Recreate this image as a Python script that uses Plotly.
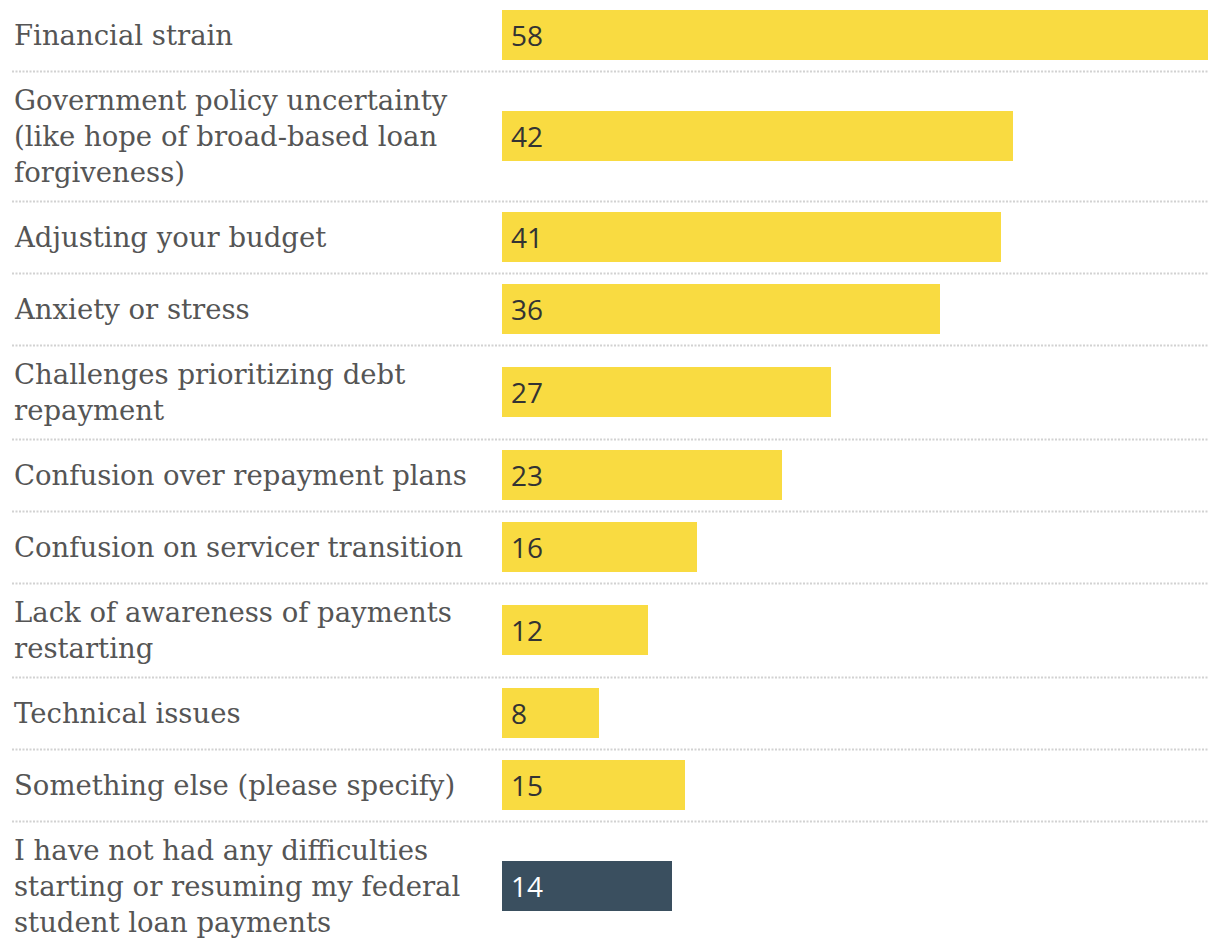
import plotly.graph_objects as go

labels = [
    "Financial strain",
    "Government policy uncertainty<br>(like hope of broad-based loan<br>forgiveness)",
    "Adjusting your budget",
    "Anxiety or stress",
    "Challenges prioritizing debt<br>repayment",
    "Confusion over repayment plans",
    "Confusion on servicer transition",
    "Lack of awareness of payments<br>restarting",
    "Technical issues",
    "Something else (please specify)",
    "I have not had any difficulties<br>starting or resuming my federal<br>student loan payments",
]
values = [58, 42, 41, 36, 27, 23, 16, 12, 8, 15, 14]
bar_colors = ["#F9DB41"] * 10 + ["#3A4F5F"]
value_text_colors = ["#333333"] * 10 + ["#FFFFFF"]

# page body has an 8px default margin; compensate so the chart sits at the page origin
OFF = 8
W, H = 1220 - OFF, 950 - OFF
ML, MR = 12 - OFF, 12
BAR_H = 50
LINE_H = 36
PAD = 22

# row layout from number of label lines
nlines = [lab.count("<br>") + 1 for lab in labels]
heights = [max(BAR_H, LINE_H * n) + PAD for n in nlines]
tops = []
acc = 0
for h in heights:
    tops.append(acc)
    acc += h
centers = [t + h / 2 - 1 for t, h in zip(tops, heights)]
bounds = [t - 0.5 for t in tops[1:]]

fig = go.Figure()
fig.add_trace(go.Bar(
    orientation="h",
    x=values,
    y=centers,
    width=BAR_H,
    marker=dict(color=bar_colors, line=dict(width=0)),
    hoverinfo="skip",
))

annotations = []
for lab, c in zip(labels, centers):
    annotations.append(dict(
        x=0, xref="paper", xanchor="left",
        y=c, yref="y", yanchor="middle",
        text=lab, showarrow=False, align="left",
        font=dict(family="DejaVu Serif", size=27.5, color="#555555"),
    ))
for v, c, col in zip(values, centers, value_text_colors):
    annotations.append(dict(
        x=0, xref="x", xanchor="left", xshift=7,
        y=c, yref="y", yanchor="middle",
        text=str(v), showarrow=False,
        font=dict(family="Open Sans", size=28, color=col),
    ))

shapes = []
for b in bounds:
    shapes.append(dict(
        type="line", xref="paper", x0=0, x1=1, yref="y", y0=b, y1=b,
        line=dict(color="#d2d2d2", width=2, dash="2px,1.5px"),
        layer="below",
    ))

plot_w = W - ML - MR
fig.update_layout(
    width=W, height=H,
    margin=dict(l=ML, r=MR, t=0, b=0),
    paper_bgcolor="white", plot_bgcolor="white",
    showlegend=False,
    xaxis=dict(domain=[(502 - 12) / plot_w, 1], range=[0, max(values)],
               visible=False, fixedrange=True),
    yaxis=dict(range=[H + OFF, OFF], visible=False, fixedrange=True),
    annotations=annotations,
    shapes=shapes,
    bargap=0,
)

fig.write_html("out.html")
